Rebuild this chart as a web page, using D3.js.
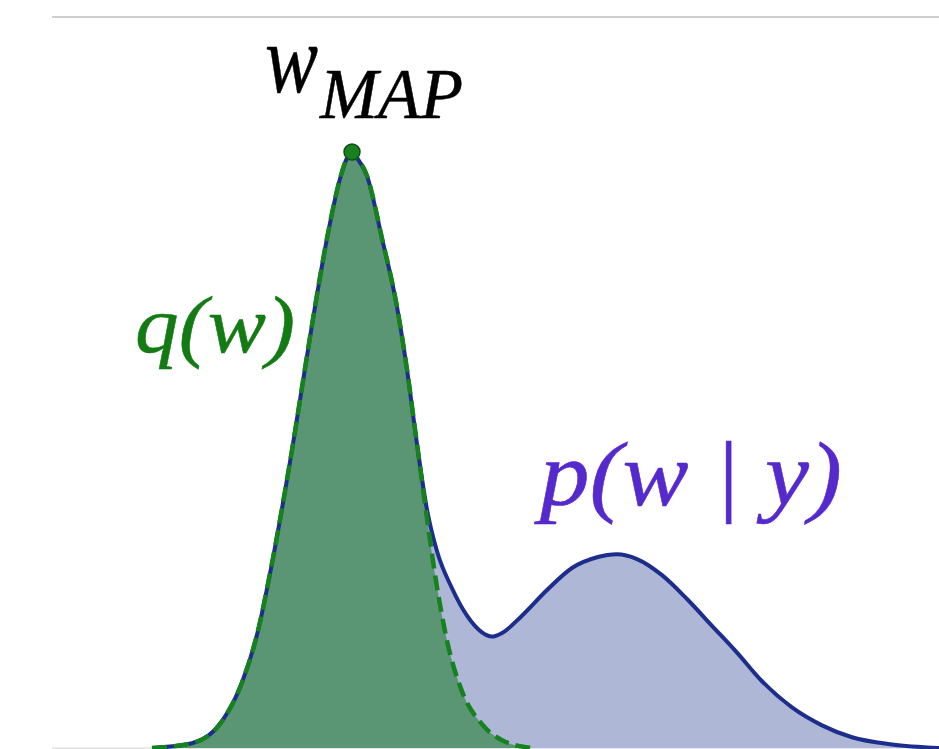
<!DOCTYPE html>
<html>

<head>
	<title>MAP vs posterior</title>
	<script src="https://cdn.jsdelivr.net/npm/d3@7/dist/d3.min.js"></script>
	<style>
		body {
			margin: 0;
			background: #fff;
		}

		.lbl text {
			font-family: "Liberation Serif", "DejaVu Serif", serif;
			font-style: italic;
			stroke-width: 0.5;
		}
	</style>
</head>

<body>
	<svg id="chart" width="939" height="749"></svg>

	<script>
		// q(w): the gaussian approximation around w_MAP
		var qW = [-2.0, -1.6, -1.3, -1.1, -0.95, -0.8, -0.6, -0.4, -0.25, -0.12, -0.05, 0,
			0.05, 0.15, 0.3, 0.45, 0.55, 0.65, 0.75, 0.85, 0.95, 1.1, 1.3, 1.5, 1.8];
		var qDensity = [0, 0.008, 0.045, 0.11, 0.19, 0.31, 0.50, 0.71, 0.855, 0.955, 0.99, 1.0,
			0.99, 0.96, 0.855, 0.74, 0.635, 0.51, 0.385, 0.27, 0.18, 0.095, 0.04, 0.013, 0];

		// p(w|y): the true posterior, bimodal
		var pW = [-2.0, -1.6, -1.3, -1.1, -0.95, -0.8, -0.6, -0.4, -0.25, -0.12, -0.05, 0,
			0.05, 0.15, 0.3, 0.45, 0.55, 0.65, 0.75, 0.85, 1.0, 1.15, 1.3, 1.4, 1.5, 1.7, 1.95,
			2.2, 2.45, 2.65, 2.85, 3.1, 3.35, 3.6, 3.85, 4.1, 4.4, 4.7, 5.0, 5.4, 5.87];
		var pDensity = [0, 0.008, 0.045, 0.11, 0.19, 0.31, 0.50, 0.71, 0.855, 0.955, 0.99, 1.0,
			0.99, 0.96, 0.855, 0.74, 0.635, 0.51, 0.40, 0.33, 0.268, 0.222, 0.194, 0.187, 0.193, 0.222, 0.265,
			0.302, 0.32, 0.325, 0.317, 0.29, 0.25, 0.205, 0.16, 0.112, 0.068, 0.038, 0.018, 0.006, 0];

		var wMap = 0;

		var svg = d3.select('#chart'),
			width = +svg.attr('width'),
			height = +svg.attr('height');

		var x = d3.scaleLinear().domain([-3, 5.87]).range([52, 939]);
		var y = d3.scaleLinear().domain([0, 1]).range([748, 152]);

		var q = qW.map((w, i) => ({ w: w, d: qDensity[i] }));
		var p = pW.map((w, i) => ({ w: w, d: pDensity[i] }));

		var area = d3.area()
			.x(d => x(d.w))
			.y0(y(0))
			.y1(d => y(d.d))
			.curve(d3.curveMonotoneX);

		var line = d3.line()
			.x(d => x(d.w))
			.y(d => y(d.d))
			.curve(d3.curveMonotoneX);

		// rules top and bottom
		svg.append('line')
			.attr('x1', 52).attr('x2', width)
			.attr('y1', 17).attr('y2', 17)
			.attr('stroke', '#cfcfcf')
			.attr('stroke-width', 2);

		svg.append('line')
			.attr('x1', 52).attr('x2', width)
			.attr('y1', y(0)).attr('y2', y(0))
			.attr('stroke', '#e2e2e2')
			.attr('stroke-width', 1.5);

		// fills first, then outlines so the dashes sit on top
		svg.append('path')
			.datum(p)
			.attr('d', area)
			.attr('fill', '#afb7d6');

		svg.append('path')
			.datum(q)
			.attr('d', area)
			.attr('fill', '#5a9673');

		svg.append('path')
			.datum(p)
			.attr('d', line)
			.attr('fill', 'none')
			.attr('stroke', '#1c2d8c')
			.attr('stroke-width', 4);

		svg.append('path')
			.datum(q)
			.attr('d', line)
			.attr('fill', 'none')
			.attr('stroke', '#17801f')
			.attr('stroke-width', 4.5)
			.attr('stroke-dasharray', '15,7');

		svg.append('circle')
			.attr('cx', x(wMap))
			.attr('cy', y(1))
			.attr('r', 8)
			.attr('fill', '#18801f')
			.attr('stroke', '#0e4f14')
			.attr('stroke-width', 1.5);

		// labels
		var lab = svg.append('g').attr('class', 'lbl');

		lab.append('text')
			.attr('x', 265).attr('y', 92)
			.attr('font-size', 98)
			.attr('textLength', 53)
			.attr('lengthAdjust', 'spacingAndGlyphs')
			.attr('fill', '#000').attr('stroke', '#000')
			.text('w');

		lab.append('text')
			.attr('x', 320).attr('y', 118)
			.attr('font-size', 72)
			.attr('textLength', 143)
			.attr('lengthAdjust', 'spacingAndGlyphs')
			.attr('fill', '#000').attr('stroke', '#000')
			.text('MAP');

		lab.append('text')
			.attr('x', 135).attr('y', 352)
			.attr('font-size', 80)
			.attr('textLength', 160)
			.attr('lengthAdjust', 'spacingAndGlyphs')
			.attr('fill', '#137a14').attr('stroke', '#137a14')
			.text('q(w)');

		lab.append('text')
			.attr('x', 540).attr('y', 505)
			.attr('font-size', 90)
			.attr('textLength', 302)
			.attr('lengthAdjust', 'spacingAndGlyphs')
			.attr('fill', '#5529cc').attr('stroke', '#5529cc')
			.text('p(w | y)');
	</script>
</body>

</html>
